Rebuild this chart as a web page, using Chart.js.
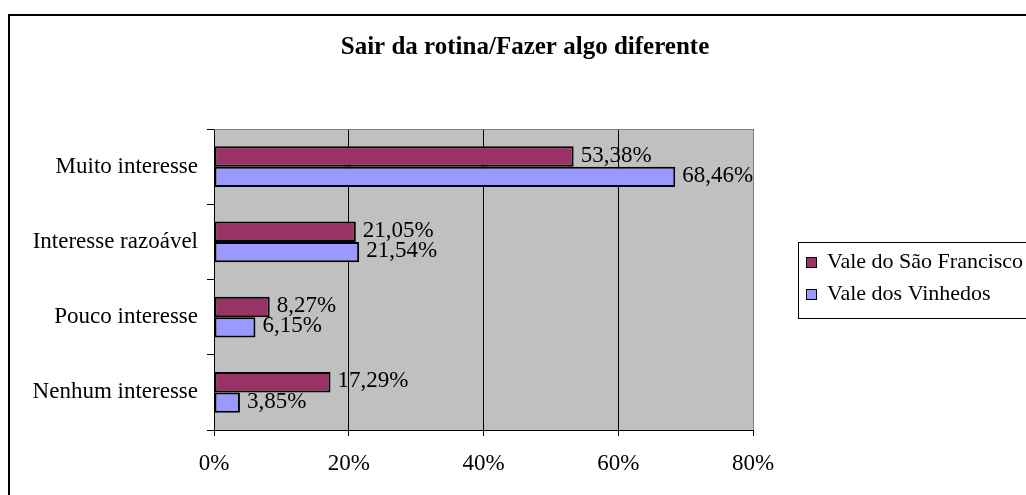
<!DOCTYPE html>
<html>
<head>
<meta charset="utf-8">
<script src="https://cdn.jsdelivr.net/npm/chart.js@4.4.1/dist/chart.umd.min.js"></script>
<style>
  body { margin: 0; background: #fff; }
  #wrap { width: 1026px; height: 495px; position: relative; }
</style>
</head>
<body>
<div id="wrap"><canvas id="chartSair"></canvas></div>
<script>
const chartTitle = 'Sair da rotina/Fazer algo diferente';
const categorias = ['Muito interesse', 'Interesse razoável', 'Pouco interesse', 'Nenhum interesse'];
const valeSaoFrancisco = [53.38, 21.05, 8.27, 17.29];
const valeVinhedos = [68.46, 21.54, 6.15, 3.85];
const xTicks = [0, 20, 40, 60, 80];

const serif = 'Liberation Serif, Times New Roman, serif';

function fmt(v) {
    return v.toFixed(2).replace('.', ',') + '%';
}

// fundo cinza + borda + titulo + legenda + rotulos
const excelLook = {
    id: 'excelLook',
    beforeDraw(chart) {
        const c = chart.ctx, a = chart.chartArea;
        c.save();
        c.fillStyle = '#fff';
        c.fillRect(0, 0, chart.width, chart.height);
        c.fillStyle = '#C0C0C0';
        c.fillRect(a.left, a.top, a.right - a.left, a.bottom - a.top);
        c.restore();
    },
    afterDraw(chart) {
        const c = chart.ctx, a = chart.chartArea;
        c.save();
        // borda externa
        c.strokeStyle = '#000';
        c.lineWidth = 2;
        c.beginPath();
        c.moveTo(9, chart.height + 5);
        c.lineTo(9, 15);
        c.lineTo(chart.width + 5, 15);
        c.stroke();

        // borda cinza da area do grafico
        c.strokeStyle = '#808080';
        c.lineWidth = 1;
        c.beginPath();
        c.moveTo(a.left, a.top + 0.5);
        c.lineTo(a.right + 0.5, a.top + 0.5);
        c.lineTo(a.right + 0.5, a.bottom);
        c.stroke();

        // titulo
        c.fillStyle = '#000';
        c.font = 'bold 25px ' + serif;
        c.textAlign = 'center';
        c.textBaseline = 'middle';
        c.fillText(chartTitle, 525, 48);

        // rotulos dos valores
        c.font = '23px ' + serif;
        c.textAlign = 'left';
        chart.data.datasets.forEach((ds, i) => {
            chart.getDatasetMeta(i).data.forEach((bar, j) => {
                c.fillText(fmt(ds.data[j]), bar.x + 7, bar.y - 1);
            });
        });

        // legenda
        const lx = 798, ly = 242;
        c.fillStyle = '#fff';
        c.fillRect(lx, ly, 240, 76);
        c.strokeStyle = '#000';
        c.lineWidth = 1;
        c.strokeRect(lx + 0.5, ly + 0.5, 240, 76);
        c.font = '22px ' + serif;
        chart.data.datasets.forEach((ds, i) => {
            const y = ly + 20 + i * 32;
            c.fillStyle = ds.backgroundColor;
            c.fillRect(lx + 8, y - 5, 11, 11);
            c.strokeStyle = '#000';
            c.strokeRect(lx + 8.5, y - 4.5, 10, 10);
            c.fillStyle = '#000';
            c.fillText(ds.label, lx + 29, y);
        });
        c.restore();
    }
};

new Chart(document.getElementById('chartSair'), {
    type: 'bar',
    data: {
        labels: categorias,
        datasets: [{
            label: 'Vale do São Francisco',
            data: valeSaoFrancisco,
            backgroundColor: '#993366',
            borderColor: '#000',
            borderWidth: 2,
            borderSkipped: false
        }, {
            label: 'Vale dos Vinhedos',
            data: valeVinhedos,
            backgroundColor: '#9999FF',
            borderColor: '#000',
            borderWidth: 2,
            borderSkipped: false
        }]
    },
    options: {
        indexAxis: 'y',
        responsive: true,
        maintainAspectRatio: false,
        animation: false,
        layout: { padding: { left: 0, top: 129, right: 273, bottom: 0 } },
        datasets: { bar: { categoryPercentage: 0.54, barPercentage: 1 } },
        plugins: {
            legend: { display: false },
            title: { display: false },
            tooltip: { enabled: false }
        },
        scales: {
            x: {
                min: 0,
                max: 80,
                afterBuildTicks(scale) {
                    scale.ticks = xTicks.map(v => ({ value: v }));
                },
                afterFit(scale) { scale.height = 65; },
                grid: { color: '#000', lineWidth: 1, tickLength: 6, drawTicks: true },
                border: { display: true, color: '#000', width: 1 },
                ticks: {
                    color: '#000',
                    font: { family: serif, size: 23 },
                    padding: 14,
                    callback: v => v + '%'
                }
            },
            y: {
                afterFit(scale) { scale.width = 214; },
                grid: { drawOnChartArea: false, color: '#000', tickLength: 7, offset: true },
                border: { display: true, color: '#000', width: 1 },
                ticks: {
                    color: '#000',
                    font: { family: serif, size: 23 },
                    padding: 9
                }
            }
        }
    },
    plugins: [excelLook]
});
</script>
</body>
</html>
